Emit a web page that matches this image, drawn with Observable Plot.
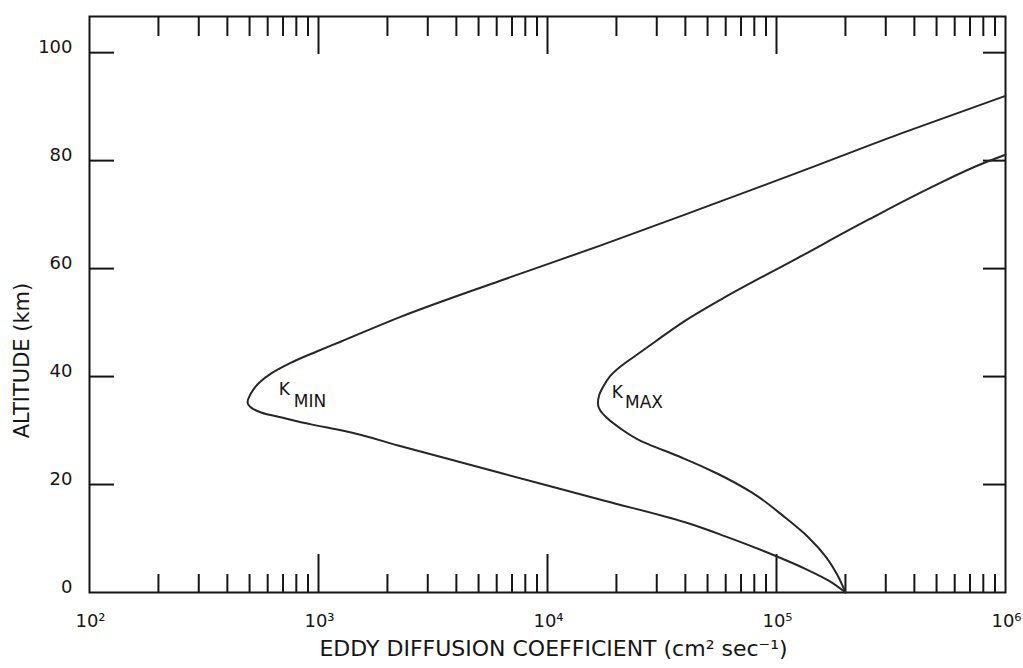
<!DOCTYPE html>
<html>
<head>
<meta charset="utf-8">
<script src="https://cdn.jsdelivr.net/npm/d3@7"></script>
<script src="https://cdn.jsdelivr.net/npm/@observablehq/plot@0.6"></script>
<style>
  body { margin: 0; background: #fff; }
  #chart svg { display: block; }
</style>
</head>
<body>
<div id="chart"></div>
<script>
// K_MIN profile (path: lower branch from ground up to the nose, then upper branch)
const kminAlt = [0, 2.2, 4.3, 6.9, 10.4, 13.0, 17.0, 22.0, 27.0, 30.0, 31.1, 32.4, 33.3, 34.3, 35.2, 37.0, 38.9, 40.6, 42.6, 44.6, 46.5, 51.1, 57.8, 64.3, 71.1, 78.0, 85.0, 92.0];
const kminK   = [2.0e5, 1.69e5, 1.35e5, 9.75e4, 5.98e4, 3.99e4, 1.774e4, 6427, 2334, 1270, 938, 692, 565, 506, 490, 509, 552, 622, 760, 977, 1256, 2296, 6266, 1.71e4, 4.68e4, 1.28e5, 3.48e5, 1.0e6];

// K_MAX profile
const kmaxAlt = [0, 3.5, 6.5, 10.2, 13.9, 18.5, 22.0, 24.8, 26.3, 28.1, 30.4, 32.4, 33.7, 35.0, 36.5, 38.1, 40.0, 41.9, 43.9, 46.5, 50.0, 54.4, 61.9, 69.1, 75.0, 79.6, 81.1];
const kmaxK   = [2.0e5, 1.83e5, 1.65e5, 1.38e5, 1.09e5, 7.82e4, 5.53e4, 3.95e4, 3.23e4, 2.55e4, 2.08e4, 1.81e4, 1.70e4, 1.66e4, 1.68e4, 1.75e4, 1.87e4, 2.09e4, 2.43e4, 2.96e4, 3.88e4, 5.79e4, 1.23e5, 2.53e5, 4.71e5, 8.09e5, 1.0e6];

// Axis ticks and labels
const xDecades = [1e2, 1e3, 1e4, 1e5, 1e6];
const xTickLabels = ["10²", "10³", "10⁴", "10⁵", "10⁶"];
const xInnerDecades = [1e3, 1e4, 1e5];
const yTicks = [0, 20, 40, 60, 80, 100];
const yTickLabels = ["0", "20", "40", "60", "80", "100"];
const yInnerTicks = [20, 40, 60, 80, 100];

// Curve labels (position in data units)
const labelMain = ["K", "K"];
const labelSub = ["MIN", "MAX"];
const labelMainK = [670, 1.91e4];
const labelMainAlt = [37.6, 37.0];
const labelSubK = [780, 2.18e4];
const labelSubAlt = [35.4, 35.2];

const xTitle = "EDDY DIFFUSION COEFFICIENT (cm² sec⁻¹)";
const yTitle = "ALTITUDE (km)";

// minor ticks 2..9 in each decade
const xMinor = [];
for (const d of xDecades.slice(0, -1)) for (let m = 2; m <= 9; m++) xMinor.push(d * m);

const kmin = kminAlt.map((a, i) => ({k: kminK[i], alt: a}));
const kmax = kmaxAlt.map((a, i) => ({k: kmaxK[i], alt: a}));
const mainLabels = labelMain.map((t, i) => ({t, k: labelMainK[i], alt: labelMainAlt[i]}));
const subLabels = labelSub.map((t, i) => ({t, k: labelSubK[i], alt: labelSubAlt[i]}));

const ink = "#151515";
const font = "DejaVu Sans, sans-serif";
const blank = () => "";

const chart = Plot.plot({
  width: 1023,
  height: 668,
  marginLeft: 89,
  marginRight: 18,
  marginTop: 16,
  marginBottom: 76,
  style: {fontFamily: font, fontSize: "18px", color: ink, background: "#fff"},
  x: {type: "log", domain: [1e2, 1e6]},
  y: {domain: [0, 106.7]},
  marks: [
    // inward tick marks
    Plot.axisX(xMinor, {anchor: "bottom", tickSize: -18, tickFormat: blank, strokeWidth: 2, stroke: ink, label: null}),
    Plot.axisX(xInnerDecades, {anchor: "bottom", tickSize: -38, tickFormat: blank, strokeWidth: 2, stroke: ink, label: null}),
    Plot.axisX(xMinor, {anchor: "top", tickSize: -19, tickFormat: blank, strokeWidth: 2, stroke: ink, label: null}),
    Plot.axisX(xInnerDecades, {anchor: "top", tickSize: -37, tickFormat: blank, strokeWidth: 2, stroke: ink, label: null}),
    Plot.axisY(yInnerTicks, {anchor: "left", tickSize: -25, tickFormat: blank, strokeWidth: 2, stroke: ink, label: null}),
    Plot.axisY(yInnerTicks, {anchor: "right", tickSize: -23, tickFormat: blank, strokeWidth: 2, stroke: ink, label: null}),
    // tick labels
    Plot.axisX(xDecades, {anchor: "bottom", tickSize: 0, tickPadding: 22, dx: 1, fontSize: 18,
      tickFormat: d => xTickLabels[xDecades.indexOf(d)], label: null, fill: ink}),
    Plot.axisY(yTicks, {anchor: "left", tickSize: 0, tickPadding: 17, dy: -5, fontSize: 18,
      tickFormat: d => yTickLabels[yTicks.indexOf(d)], label: null, fill: ink}),
    // frame
    Plot.frame({stroke: ink, strokeWidth: 2}),
    // curves
    Plot.line(kmin, {x: "k", y: "alt", curve: "monotone-y", stroke: "#262626", strokeWidth: 2}),
    Plot.line(kmax, {x: "k", y: "alt", curve: "monotone-y", stroke: "#262626", strokeWidth: 2}),
    // curve labels
    Plot.text(mainLabels, {x: "k", y: "alt", text: "t", textAnchor: "start", fontSize: 17, fill: ink}),
    Plot.text(subLabels, {x: "k", y: "alt", text: "t", textAnchor: "start", fontSize: 17, fill: ink}),
    // axis titles
    Plot.text([xTitle], {frameAnchor: "bottom", textAnchor: "middle", dy: 63, dx: 6, fontSize: 22, fill: ink}),
    Plot.text([yTitle], {frameAnchor: "left", textAnchor: "middle", dx: -67, dy: 56, rotate: -90, fontSize: 21, fill: ink})
  ]
});

document.getElementById("chart").appendChild(chart);
</script>
</body>
</html>
